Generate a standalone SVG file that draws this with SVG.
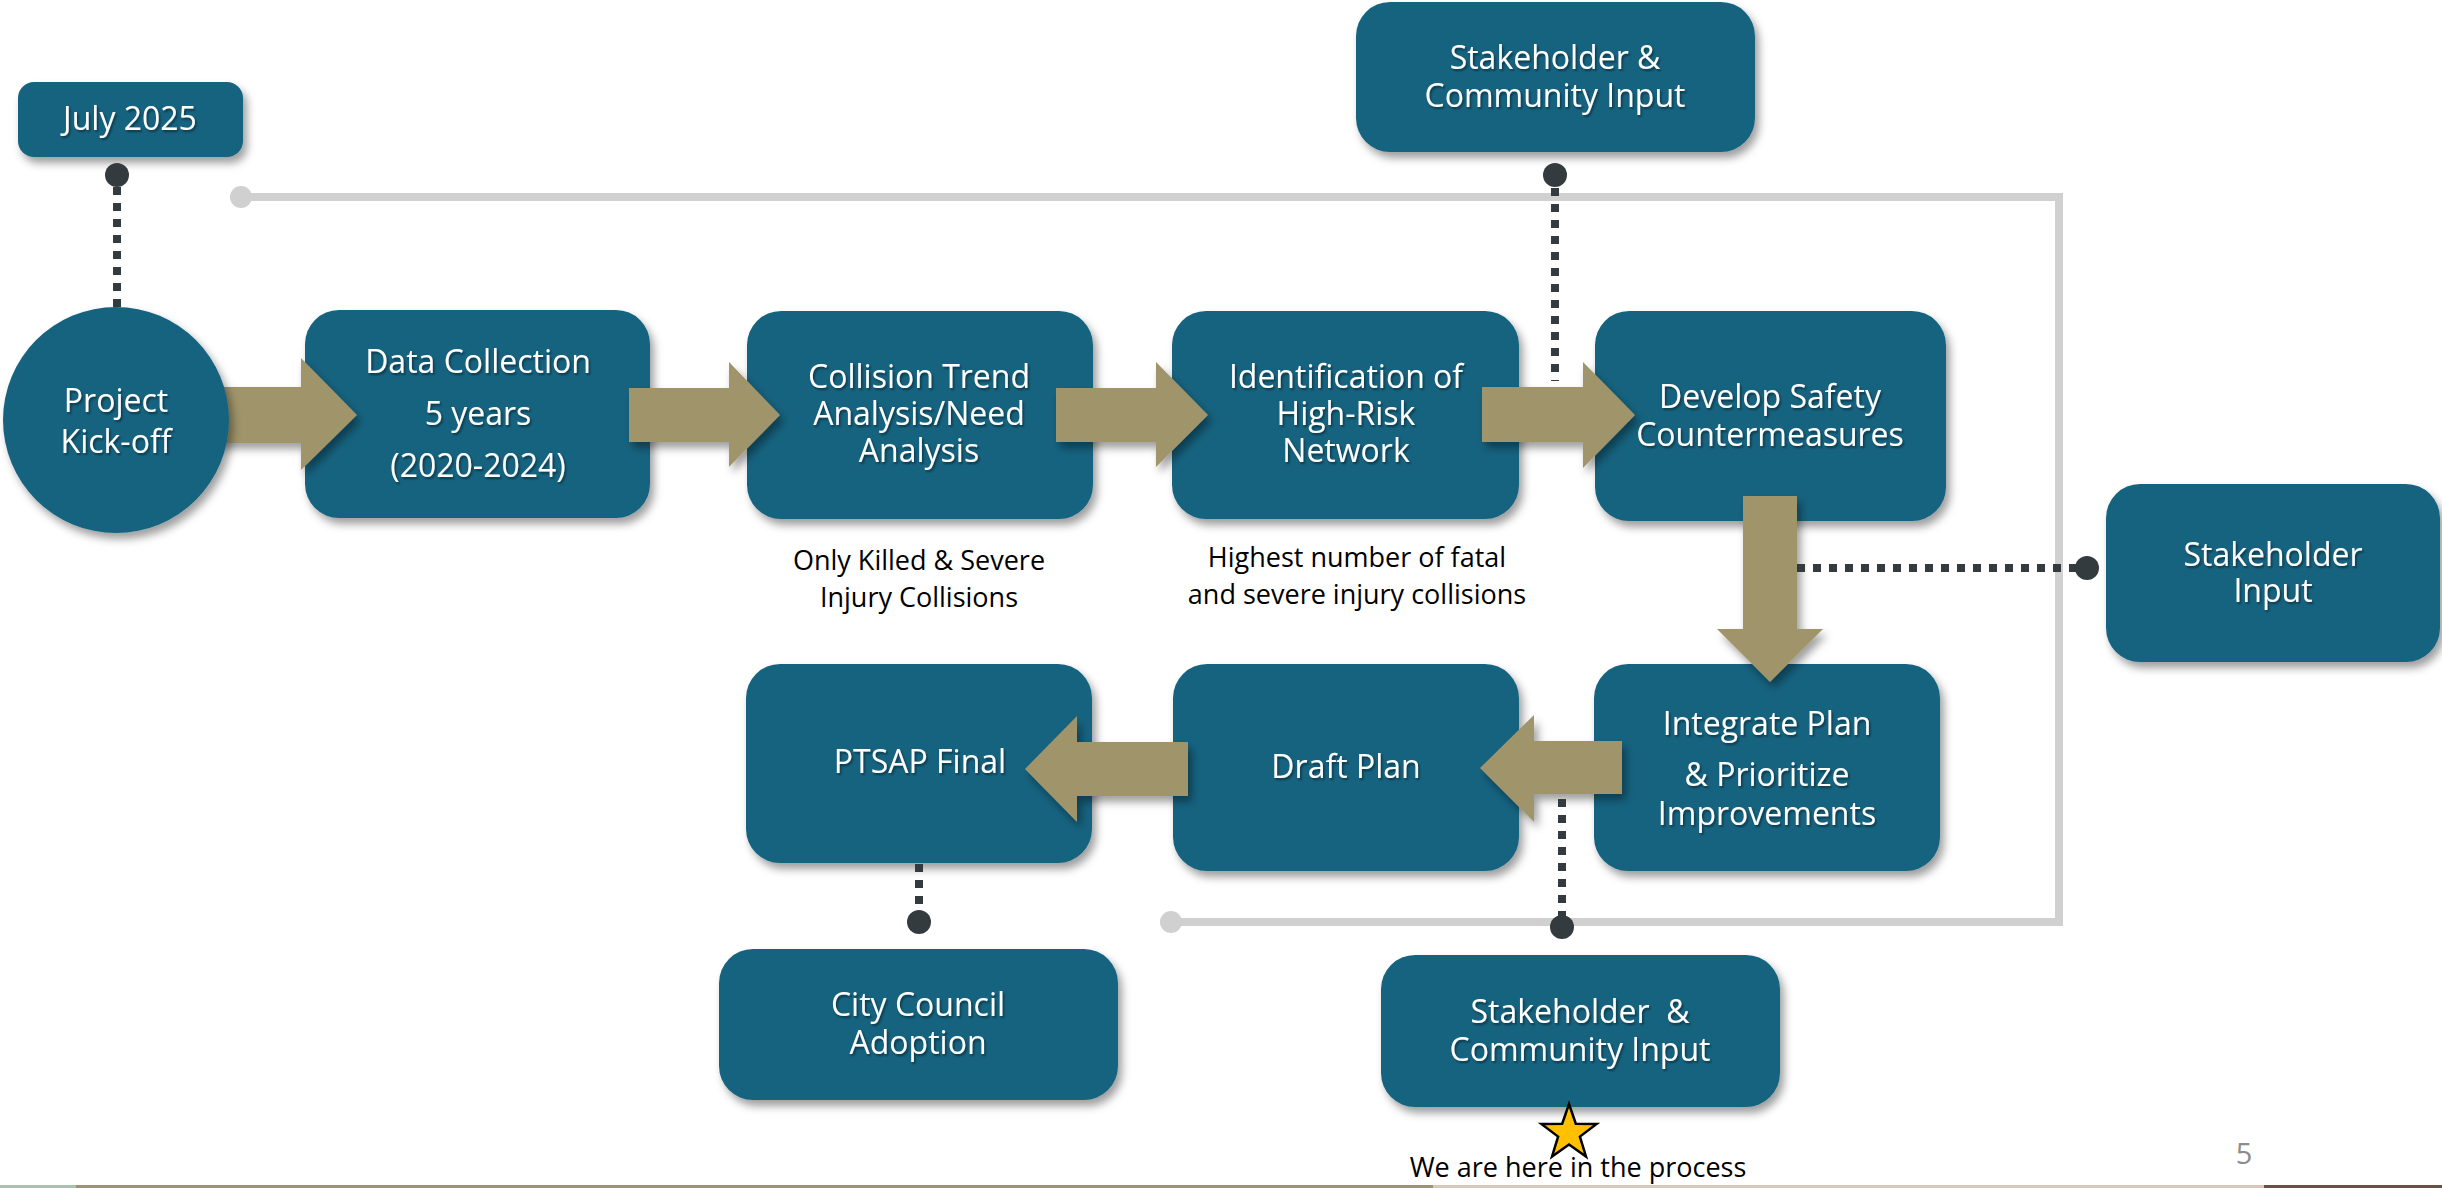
<svg xmlns="http://www.w3.org/2000/svg" width="2442" height="1188" viewBox="0 0 2442 1188">
<defs>
<filter id="sh" x="-10%" y="-10%" width="130%" height="140%">
<feDropShadow dx="4" dy="6" stdDeviation="4" flood-color="#000" flood-opacity="0.38"/>
</filter>
<filter id="tsh" x="-5%" y="-20%" width="110%" height="150%">
<feDropShadow dx="1.5" dy="2" stdDeviation="1" flood-color="#000" flood-opacity="0.45"/>
</filter>
</defs>
<style>
.box{fill:#196380;filter:url(#sh);}
.t{font-family:"Open Sans","Noto Sans",sans-serif;font-size:32px;fill:#ffffff;text-anchor:middle;filter:url(#tsh);}
.a{font-family:"Open Sans","Noto Sans",sans-serif;font-size:27px;fill:#000000;text-anchor:middle;}
.arr{fill:#a0946a;filter:url(#sh);}
.dot{stroke:#343b3f;stroke-width:8;stroke-dasharray:8 8;fill:none;}
.dd{fill:#343b3f;}
.gl{stroke:#d0d0d0;stroke-width:8;fill:none;}
.gd{fill:#d0d0d0;}
</style>
<rect width="2442" height="1188" fill="#ffffff"/>

<g id="loop">
<polyline class="gl" points="241,197 2059,197 2059,922 1171,922"/>
<circle class="gd" cx="241" cy="197" r="11"/>
<circle class="gd" cx="1171" cy="922" r="11"/>
</g>

<g id="july-2025">
<rect class="box" x="18" y="82" width="225" height="75" rx="16"/>
<text class="t" x="130" y="130">July 2025</text>
</g>

<g id="data-collection">
<rect class="box" x="305" y="310" width="345" height="208" rx="34"/>
<text class="t" x="478" y="373">Data Collection</text>
<text class="t" x="478" y="425">5 years</text>
<text class="t" x="478" y="477">(2020-2024)</text>
</g>

<g id="collision-trend">
<rect class="box" x="747" y="311" width="346" height="208" rx="34"/>
<text class="t" x="919" y="388">Collision Trend</text>
<text class="t" x="919" y="425">Analysis/Need</text>
<text class="t" x="919" y="462">Analysis</text>
</g>

<g id="high-risk-network">
<rect class="box" x="1172" y="311" width="347" height="208" rx="34"/>
<text class="t" x="1346" y="388">Identification of</text>
<text class="t" x="1346" y="425">High-Risk</text>
<text class="t" x="1346" y="462">Network</text>
</g>

<g id="develop-safety">
<rect class="box" x="1595" y="311" width="351" height="210" rx="34"/>
<text class="t" x="1770" y="408">Develop Safety</text>
<text class="t" x="1770" y="446">Countermeasures</text>
</g>

<g id="stakeholder-community-top">
<rect class="box" x="1356" y="2" width="399" height="150" rx="34"/>
<text class="t" x="1555" y="69">Stakeholder &amp;</text>
<text class="t" x="1555" y="107">Community Input</text>
</g>

<g id="stakeholder-input">
<rect class="box" x="2106" y="484" width="334" height="178" rx="34"/>
<text class="t" x="2273" y="566">Stakeholder</text>
<text class="t" x="2273" y="602">Input</text>
</g>

<g id="integrate-plan">
<rect class="box" x="1594" y="664" width="346" height="207" rx="34"/>
<text class="t" x="1767" y="735">Integrate Plan</text>
<text class="t" x="1767" y="786">&amp; Prioritize</text>
<text class="t" x="1767" y="825">Improvements</text>
</g>

<g id="draft-plan">
<rect class="box" x="1173" y="664" width="346" height="207" rx="34"/>
<text class="t" x="1346" y="778">Draft Plan</text>
</g>

<g id="ptsap-final">
<rect class="box" x="746" y="664" width="346" height="199" rx="34"/>
<text class="t" x="920" y="773">PTSAP Final</text>
</g>

<g id="city-council">
<rect class="box" x="719" y="949" width="399" height="151" rx="34"/>
<text class="t" x="918" y="1016">City Council</text>
<text class="t" x="918" y="1054">Adoption</text>
</g>

<g id="stakeholder-community-bottom">
<rect class="box" x="1381" y="955" width="399" height="152" rx="34"/>
<text class="t" x="1580" y="1023">Stakeholder&#160; &amp;</text>
<text class="t" x="1580" y="1061">Community Input</text>
</g>

<g id="connectors">
<polygon class="arr" points="200,387 301,387 301,358 357,415 301,470 301,443 200,443"/>
<polygon class="arr" points="629,388 729,388 729,362 780,415 729,467 729,442 629,442"/>
<polygon class="arr" points="1056,388 1156,388 1156,362 1208,415 1156,467 1156,442 1056,442"/>
<polygon class="arr" points="1482,387 1583,387 1583,362 1635,415 1583,468 1583,442 1482,442"/>
<polygon class="arr" points="1743,496 1797,496 1797,629 1823,629 1770,682 1717,629 1743,629"/>
<polygon class="arr" points="1622,741 1534,741 1534,715 1480,768 1534,822 1534,794 1622,794"/>
<polygon class="arr" points="1188,742 1077,742 1077,716 1025,769 1077,822 1077,796 1188,796"/>
<line class="dot" x1="117" y1="187" x2="117" y2="308"/>
<circle class="dd" cx="117" cy="175" r="12"/>
<line class="dot" x1="1555" y1="188" x2="1555" y2="381"/>
<circle class="dd" cx="1555" cy="175" r="12"/>
<line class="dot" x1="1797" y1="568" x2="2076" y2="568"/>
<circle class="dd" cx="2087" cy="568" r="12"/>
<line class="dot" x1="1562" y1="799" x2="1562" y2="916"/>
<circle class="dd" cx="1562" cy="927" r="12"/>
<line class="dot" x1="919" y1="864" x2="919" y2="911"/>
<circle class="dd" cx="919" cy="922" r="12"/>
</g>

<g id="project-kickoff">
<circle class="box" cx="116" cy="420" r="113"/>
<text class="t" x="116" y="412">Project</text>
<text class="t" x="116" y="453">Kick-off</text>
</g>

<g id="notes">
<text class="a" x="919" y="570">Only Killed &amp; Severe</text>
<text class="a" x="919" y="607">Injury Collisions</text>
<text class="a" x="1357" y="567">Highest number of fatal</text>
<text class="a" x="1357" y="604">and severe injury collisions</text>
</g>

<g id="here-marker">
<polygon points="1569,1104 1575.8,1123.7 1596.6,1124 1579.9,1136.6 1586,1156.5 1569,1144.5 1552,1156.5 1558.1,1136.6 1541.4,1124 1562.2,1123.7" fill="#ffc000" stroke="#000000" stroke-width="2.5" stroke-linejoin="miter"/>
<text class="a" x="1578" y="1177">We are here in the process</text>
</g>

<text x="2244" y="1164" font-family="Open Sans, Noto Sans, sans-serif" font-size="29" fill="#8c8c8c" text-anchor="middle">5</text>

<g id="bottom-bar">
<rect x="0" y="1185" width="76" height="3" fill="#a9c2ab"/>
<rect x="76" y="1185" width="1357" height="3" fill="#a09077"/>
<rect x="1433" y="1185" width="831" height="3" fill="#d7c9b7"/>
<rect x="2264" y="1185" width="178" height="3" fill="#6e4f45"/>
</g>
</svg>
